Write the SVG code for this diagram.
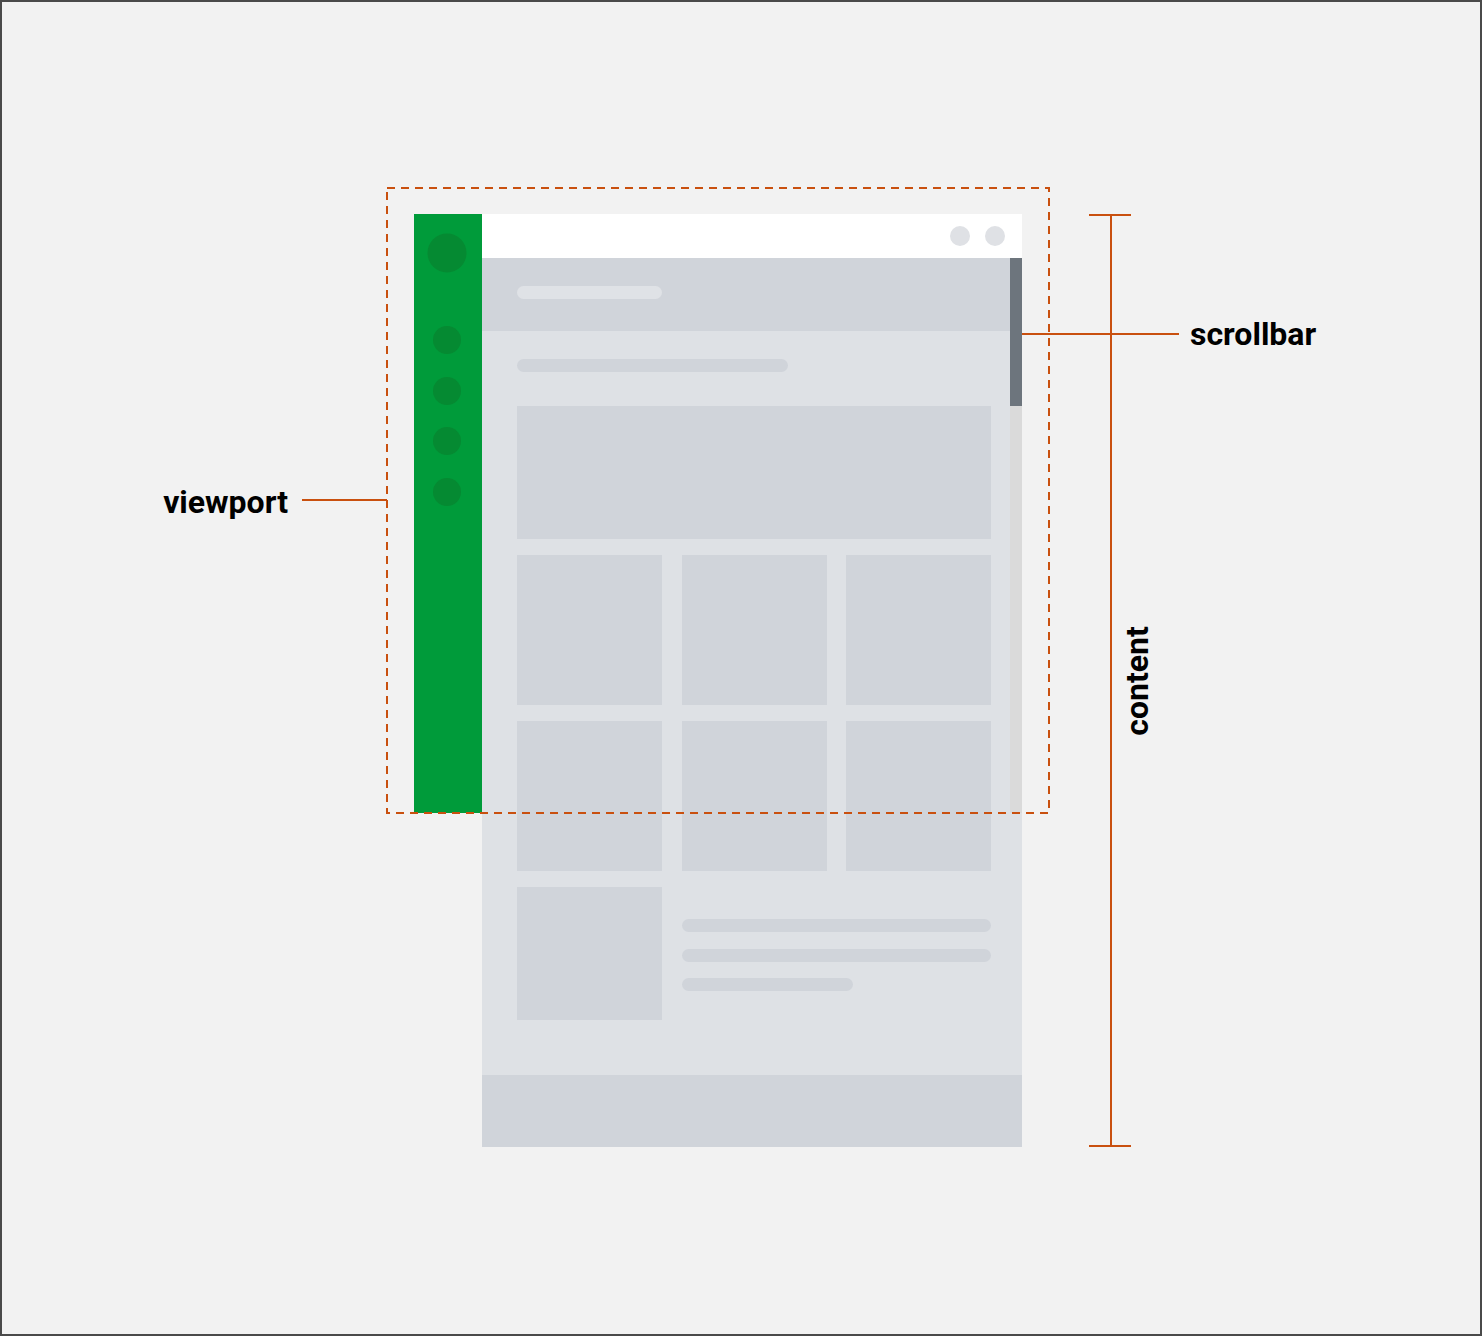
<svg xmlns="http://www.w3.org/2000/svg" width="1482" height="1336" viewBox="0 0 1482 1336">
  <style>
    .lbl { font-family: Roboto, "Liberation Sans", sans-serif; font-weight: bold; font-size: 32px; fill: #000; }
    .lead { stroke: #c9500f; stroke-width: 2; fill: none; }
    .blk { fill: #d0d4da; }
    .pill { fill: #d0d4da; }
    .dot { fill: #058a32; }
  </style>
  <!-- canvas -->
  <rect x="1" y="1" width="1480" height="1334" fill="#f2f2f2" stroke="#4a4a4a" stroke-width="2"/>

  <!-- page content (full scroll height) -->
  <g id="page">
    <rect x="482" y="258" width="540" height="889" fill="#dee1e5"/>
    <rect x="482" y="258" width="540" height="73" fill="#d0d4da"/>
    <rect x="517" y="286" width="145" height="13" rx="6.5" fill="#dfe2e6"/>
    <rect class="pill" x="517" y="359" width="271" height="13" rx="6.5"/>
    <rect class="blk" x="517" y="406" width="474" height="133"/>
    <rect class="blk" x="517" y="555" width="145" height="150"/>
    <rect class="blk" x="682" y="555" width="145" height="150"/>
    <rect class="blk" x="846" y="555" width="145" height="150"/>
    <rect class="blk" x="517" y="721" width="145" height="150"/>
    <rect class="blk" x="682" y="721" width="145" height="150"/>
    <rect class="blk" x="846" y="721" width="145" height="150"/>
    <rect class="blk" x="517" y="887" width="145" height="133"/>
    <rect class="pill" x="682" y="919" width="309" height="13" rx="6.5"/>
    <rect class="pill" x="682" y="949" width="309" height="13" rx="6.5"/>
    <rect class="pill" x="682" y="978" width="171" height="13" rx="6.5"/>
    <rect x="482" y="1075" width="540" height="72" fill="#d0d4da"/>
  </g>

  <!-- title bar -->
  <g id="titlebar">
    <rect x="482" y="214" width="540" height="44" fill="#ffffff"/>
    <circle cx="960" cy="236" r="10" fill="#dfe1e5"/>
    <circle cx="995" cy="236" r="10" fill="#dfe1e5"/>
  </g>

  <!-- side navigation -->
  <g id="sidebar">
    <rect x="414" y="214" width="68" height="599" fill="#009b3a"/>
    <circle class="dot" cx="447" cy="253" r="19.5"/>
    <circle class="dot" cx="447" cy="340" r="14"/>
    <circle class="dot" cx="447" cy="391" r="14"/>
    <circle class="dot" cx="447" cy="441" r="14"/>
    <circle class="dot" cx="447" cy="492" r="14"/>
  </g>

  <!-- scrollbar -->
  <g id="scrollbar">
    <rect x="1010" y="258" width="12" height="555" fill="#dadada"/>
    <rect x="1010" y="258" width="12" height="148" fill="#6d757d"/>
  </g>

  <!-- viewport outline -->
  <g id="viewport">
    <rect x="387" y="188" width="662" height="625" fill="none" stroke="#c9500f" stroke-width="2" stroke-dasharray="8,6"/>
  </g>

  <!-- leaders and bracket -->
  <g id="connectors">
    <line class="lead" x1="302" y1="500" x2="387" y2="500"/>
    <line class="lead" x1="1022" y1="334" x2="1179" y2="334"/>
    <line class="lead" x1="1111" y1="215" x2="1111" y2="1146"/>
    <line class="lead" x1="1089" y1="215" x2="1131" y2="215"/>
    <line class="lead" x1="1089" y1="1146" x2="1131" y2="1146"/>
  </g>

  <g id="labels">
    <text class="lbl" x="288" y="513" text-anchor="end">viewport</text>
    <text class="lbl" x="1190" y="345">scrollbar</text>
    <text class="lbl" transform="translate(1148,681) rotate(-90)" text-anchor="middle">content</text>
  </g>
</svg>
